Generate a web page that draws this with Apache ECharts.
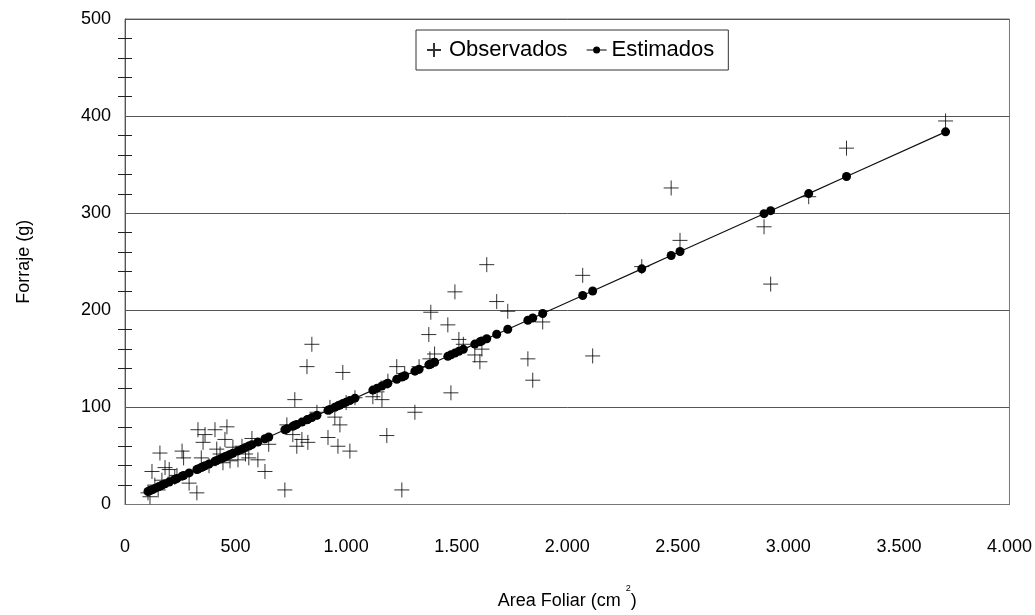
<!DOCTYPE html>
<html>
<head>
<meta charset="utf-8">
<script src="https://cdn.jsdelivr.net/npm/echarts@6/dist/echarts.min.js"></script>
<style>
html,body{margin:0;padding:0;background:#fff;}
#chart{width:1035px;height:615px;}
</style>
</head>
<body>
<div id="chart"></div>
<script>
// Area foliar (cm2) of each sample
const areaFoliar = [104,113,122,135,150,158,167,181,200,225,235,258,265,290,325,330,345,353,362,380,
  407,415,430,443,452,461,475,488,511,529,545,560,574,601,633,650,723,732,759,768,
  777,800,823,827,845,868,918,927,949,963,972,985,1000,1017,1040,1121,1140,1162,1184,1189,
  1229,1252,1265,1311,1330,1374,1379,1383,1400,1460,1474,1492,1510,1530,1582,1605,1614,1636,1681,1731,
  1822,1844,1889,2070,2115,2337,2470,2510,2890,2920,3092,3263,3711];
// Observed forage (g)
const observados = [12,8,34,20,15,53,25,38,36,28,30,55,48,22,12,77,48,64,72,40,
  77,57,52,43,67,80,45,59,46,60,52,48,68,46,34,62,15,82,72,108,
  60,67,142,64,165,95,69,100,90,60,82,136,105,55,110,111,116,108,71,127,
  142,15,135,95,142,175,150,198,155,185,115,219,170,165,154,147,160,247,209,199,
  150,128,188,236,153,245,326,272,286,227,317,367,395];
// Estimated forage (g)
const estimados = [13.4,14.3,15.2,16.6,18.1,18.9,19.9,21.3,23.2,25.8,26.8,29.2,29.9,32.5,36.1,36.6,38.1,39.0,39.9,41.7,
  44.5,45.3,46.9,48.2,49.1,50.0,51.5,52.8,55.2,57.0,58.7,60.2,61.6,64.4,67.7,69.5,77.0,77.9,80.6,81.6,
  82.5,84.9,87.2,87.6,89.5,91.8,97.0,97.9,100.2,101.6,102.5,103.9,105.4,107.1,109.5,117.8,119.8,122.0,124.3,124.8,
  128.9,131.3,132.6,137.3,139.3,143.8,144.3,144.7,146.5,152.6,154.1,155.9,157.8,159.8,165.2,167.5,168.5,170.7,175.3,180.5,
  189.8,192.1,196.7,215.3,219.9,242.7,256.4,260.5,299.5,302.6,320.2,337.8,383.8];
const xTicks = [0,500,1000,1500,2000,2500,3000,3500,4000];
const yTicks = [0,100,200,300,400,500];

const obsData = areaFoliar.map((x,i)=>[x, observados[i]]);
const estData = areaFoliar.map((x,i)=>[x, estimados[i]]);
const FONT = '"Liberation Sans", Arial, sans-serif';
const fmtX = v => v >= 1000 ? Math.floor(v/1000) + '.' + String(v%1000).padStart(3,'0') : String(v);

const chart = echarts.init(document.getElementById('chart'));
const yCommon = {
  type:'value', min:yTicks[0], max:yTicks[yTicks.length-1], interval:100, position:'left'
};
chart.setOption({
  animation:false,
  backgroundColor:'#fff',
  textStyle:{fontFamily:FONT, color:'#000'},
  grid:{left:125, right:25, top:19, bottom:110, show:true, borderColor:'#777', borderWidth:1},
  legend:{
    left:416, top:30, itemGap:19, padding:[9,14,9,10],
    borderColor:'#333', borderWidth:1, borderRadius:0,
    itemWidth:20, itemHeight:14,
    textStyle:{fontSize:22, fontFamily:FONT, color:'#000'},
    data:[
      {name:'Observados'},
      {name:'Estimados', icon:'path://M0,3H20V4H0Z M13.5,3.5A3.5,3.5,0,1,1,6.5,3.5A3.5,3.5,0,1,1,13.5,3.5Z'}
    ]
  },
  xAxis:{
    type:'value', min:xTicks[0], max:xTicks[xTicks.length-1], interval:500,
    name:'Area Foliar (cm {s|2})', nameLocation:'middle', nameGap:80,
    nameTextStyle:{fontSize:18, color:'#000', fontFamily:FONT,
      rich:{s:{fontSize:9, verticalAlign:'top', padding:[0,0,24,0], fontFamily:FONT}}},
    axisLine:{show:true, lineStyle:{color:'#777', width:1}},
    axisTick:{show:false},
    splitLine:{show:false},
    axisLabel:{fontSize:18, color:'#000', margin:34, formatter:fmtX, fontFamily:FONT}
  },
  yAxis:[
    Object.assign({}, yCommon, {
      name:'Forraje (g)', nameLocation:'middle', nameGap:92, nameRotate:90,
      nameTextStyle:{fontSize:18, color:'#000', fontFamily:FONT},
      axisLine:{show:true, lineStyle:{color:'#555', width:1}},
      axisTick:{show:false},
      minorTick:{show:true, splitNumber:5, length:7, lineStyle:{color:'#222', width:1}},
      splitLine:{show:true, lineStyle:{color:'#555', width:1}},
      axisLabel:{fontSize:18, color:'#000', margin:14, fontFamily:FONT}
    }),
    Object.assign({}, yCommon, {
      axisLine:{show:false},
      axisTick:{show:false, inside:true},
      minorTick:{show:true, splitNumber:5, length:7, lineStyle:{color:'#222', width:1}},
      splitLine:{show:false},
      axisLabel:{show:false}
    })
  ],
  series:[
    {
      name:'Observados', type:'scatter', data:obsData, yAxisIndex:0,
      symbol:'path://M0,7L14,7M7,0L7,14', symbolSize:15,
      itemStyle:{color:'rgba(0,0,0,0)', borderColor:'#000', borderWidth:1},
      z:3
    },
    {
      name:'Estimados', type:'line', data:estData, yAxisIndex:0,
      symbol:'circle', symbolSize:9, showSymbol:true,
      lineStyle:{color:'#111', width:1.2},
      itemStyle:{color:'#000'},
      z:4
    }
  ]
});
</script>
</body>
</html>
